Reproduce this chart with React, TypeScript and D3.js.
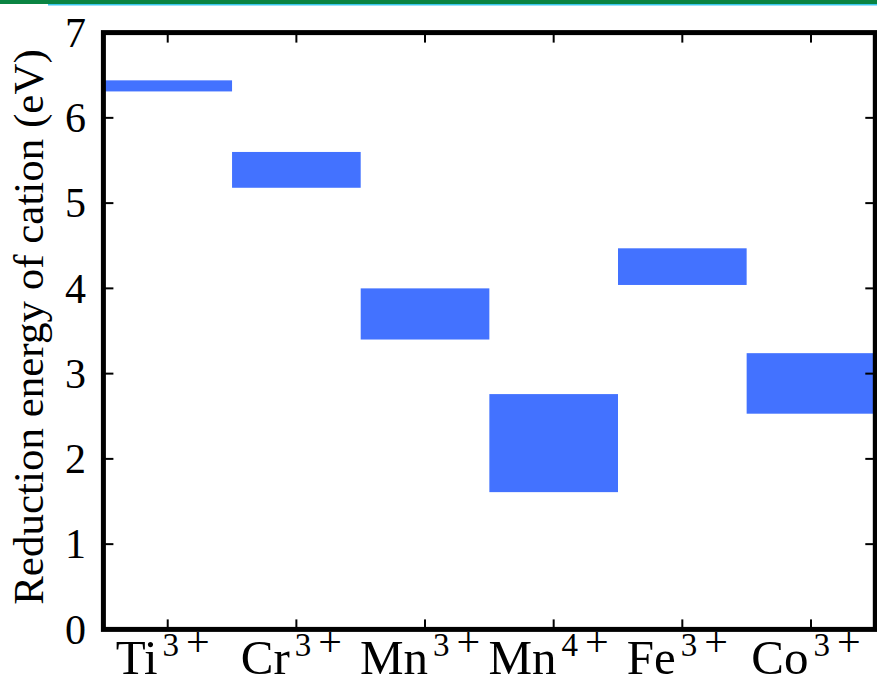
import React from "react";
import * as d3 from "d3";

// Reduction energy ranges (eV) for each transition-metal cation
const ions = ["Ti", "Cr", "Mn", "Mn", "Fe", "Co"];
const charges = ["3", "3", "3", "4", "3", "3"];
const lowEnergy = [6.31, 5.18, 3.4, 1.61, 4.04, 2.53];
const highEnergy = [6.44, 5.6, 4.0, 2.76, 4.47, 3.24];
const yTicks = [0, 1, 2, 3, 4, 5, 6, 7];

const W = 877;
const H = 680;
const left = 103.4;
const right = 875.3;
const top = 32.6;
const bottom = 629.4;
const FONT = "Liberation Serif";

export default function App() {
  const keys = ions.map((d, i) => `${d}${charges[i]}`);
  const x = d3.scaleBand<string>().domain(keys).range([left, right]).padding(0);
  const y = d3.scaleLinear().domain([0, 7]).range([bottom, top]);
  const tickLen = 8;

  return (
    <svg
      width={W}
      height={H}
      style={{ position: "absolute", left: 0, top: 0, background: "#fff" }}
    >
      {/* header strip */}
      <rect x={0} y={0} width={W} height={4} fill="#0a8442" />
      <rect x={48} y={4} width={W - 48} height={1.5} fill="#3cc8f0" />

      {/* energy ranges */}
      {keys.map((k, i) => (
        <rect
          key={k}
          x={x(k)}
          y={y(highEnergy[i])}
          width={x.bandwidth()}
          height={y(lowEnergy[i]) - y(highEnergy[i])}
          fill="#4372ff"
        />
      ))}

      {/* ticks on all four sides, pointing inward */}
      {keys.map((k) => {
        const cx = (x(k) as number) + x.bandwidth() / 2;
        return (
          <g key={`t${k}`} stroke="#000" strokeWidth={2}>
            <line x1={cx} x2={cx} y1={bottom} y2={bottom - tickLen - 2} />
            <line x1={cx} x2={cx} y1={top} y2={top + tickLen + 2} />
          </g>
        );
      })}
      {yTicks.map((t) => (
        <g key={`y${t}`} stroke="#000" strokeWidth={2}>
          <line x1={left} x2={left + tickLen + 2} y1={y(t)} y2={y(t)} />
          <line x1={right} x2={right - tickLen - 2} y1={y(t)} y2={y(t)} />
        </g>
      ))}

      {/* frame */}
      <rect
        x={left}
        y={top}
        width={right - left}
        height={bottom - top}
        fill="none"
        stroke="#000"
        strokeWidth={5}
      />

      {/* y tick labels */}
      {yTicks.map((t) => (
        <text
          key={`yl${t}`}
          x={86}
          y={y(t)}
          dy="0.34em"
          textAnchor="end"
          style={{ fontFamily: FONT, fontSize: 42 }}
          fill="#000"
        >
          {t}
        </text>
      ))}

      {/* x tick labels with charge superscripts */}
      {keys.map((k, i) => {
        const cx = (x(k) as number) + x.bandwidth() / 2;
        return (
          <text
            key={`xl${k}`}
            x={cx - 5}
            y={674}
            textAnchor="middle"
            style={{ fontFamily: FONT, fontSize: 49 }}
            fill="#000"
          >
            <tspan>{ions[i]}</tspan>
            <tspan style={{ fontSize: 33 }} dy={-18} dx={5}>
              {charges[i]}
            </tspan>
            <tspan style={{ fontSize: 42 }} dx={7}>
              +
            </tspan>
          </text>
        );
      })}

      {/* y axis title */}
      <text
        transform={`translate(43, ${(top + bottom) / 2 - 4}) rotate(-90)`}
        textAnchor="middle"
        style={{ fontFamily: FONT, fontSize: 43 }}
        fill="#000"
      >
        Reduction energy of cation (eV)
      </text>
    </svg>
  );
}
